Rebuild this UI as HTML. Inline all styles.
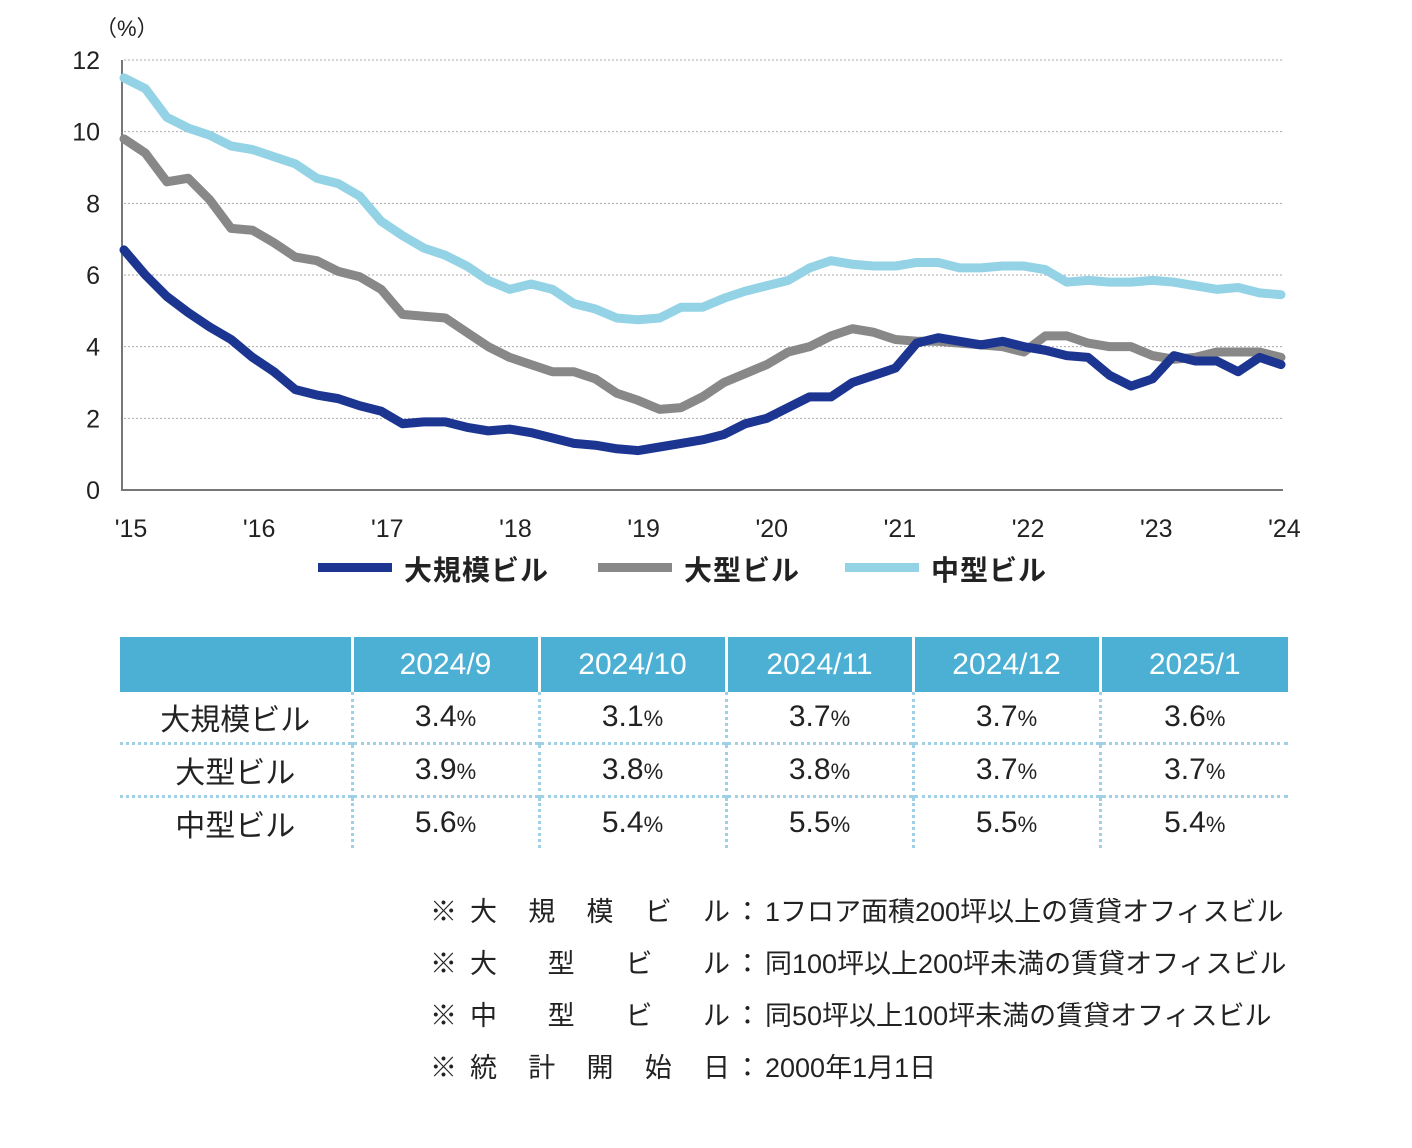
<!DOCTYPE html>
<html><head><meta charset="utf-8">
<style>
body{margin:0;width:1412px;height:1148px;background:#fff;font-family:"Liberation Sans","Noto Sans CJK JP",sans-serif;position:relative;overflow:hidden}
svg{position:absolute;left:0;top:0}
table{position:absolute;left:120px;top:637px;border-collapse:collapse;table-layout:fixed}
td,th{padding:0;text-align:center;font-weight:normal}
th{background:#4bb0d4;color:#fff;font-size:30px;height:55px;border-left:3px solid #fff}
th:first-child{border-left:none}
td{font-size:30px;color:#222;height:50px;border-left:3px dotted #9fd0e6;border-top:3px dotted #9fd0e6}
td:first-child{border-left:none}
tr.r1 td{border-top:none}
td small{font-size:22px}
.notes{position:absolute;left:430px;top:890px;font-size:27px;color:#222}
.notes div{height:52px;display:flex}
.notes .m{width:40px}
.notes .k{width:260px;display:flex;justify-content:space-between}
.notes .c{width:35px;text-align:center}
</style></head><body>
<svg id="chart" width="1412" height="600"></svg>
<table>
<colgroup><col style="width:232px"><col style="width:187px"><col style="width:187px"><col style="width:187px"><col style="width:187px"><col style="width:188px"></colgroup>
<tr><th></th><th>2024/9</th><th>2024/10</th><th>2024/11</th><th>2024/12</th><th>2025/1</th></tr>
<tr class="r1"><td>大規模ビル</td><td>3.4<small>%</small></td><td>3.1<small>%</small></td><td>3.7<small>%</small></td><td>3.7<small>%</small></td><td>3.6<small>%</small></td></tr>
<tr><td>大型ビル</td><td>3.9<small>%</small></td><td>3.8<small>%</small></td><td>3.8<small>%</small></td><td>3.7<small>%</small></td><td>3.7<small>%</small></td></tr>
<tr><td>中型ビル</td><td>5.6<small>%</small></td><td>5.4<small>%</small></td><td>5.5<small>%</small></td><td>5.5<small>%</small></td><td>5.4<small>%</small></td></tr>
</table>
<div class="notes">
<div><span class="m">※</span><span class="k"><span>大</span><span>規</span><span>模</span><span>ビ</span><span>ル</span></span><span class="c">：</span><span>1フロア面積200坪以上の賃貸オフィスビル</span></div>
<div><span class="m">※</span><span class="k"><span>大</span><span>型</span><span>ビ</span><span>ル</span></span><span class="c">：</span><span>同100坪以上200坪未満の賃貸オフィスビル</span></div>
<div><span class="m">※</span><span class="k"><span>中</span><span>型</span><span>ビ</span><span>ル</span></span><span class="c">：</span><span>同50坪以上100坪未満の賃貸オフィスビル</span></div>
<div><span class="m">※</span><span class="k"><span>統</span><span>計</span><span>開</span><span>始</span><span>日</span></span><span class="c">：</span><span>2000年1月1日</span></div>
</div>
<script>
const yTicks=[0,2,4,6,8,10,12];
const xLabels=["'15","'16","'17","'18","'19","'20","'21","'22","'23","'24"];
const largeScale=[6.7,6.0,5.4,4.95,4.55,4.2,3.7,3.3,2.8,2.65,2.55,2.35,2.2,1.85,1.9,1.9,1.75,1.65,1.7,1.6,1.45,1.3,1.25,1.15,1.1,1.2,1.3,1.4,1.55,1.85,2.0,2.3,2.6,2.6,3.0,3.2,3.4,4.1,4.25,4.15,4.05,4.15,4.0,3.9,3.75,3.7,3.2,2.9,3.1,3.75,3.6,3.6,3.3,3.7,3.5];
const large=[9.8,9.4,8.6,8.7,8.1,7.3,7.25,6.9,6.5,6.4,6.1,5.95,5.6,4.9,4.85,4.8,4.4,4.0,3.7,3.5,3.3,3.3,3.1,2.7,2.5,2.25,2.3,2.6,3.0,3.25,3.5,3.85,4.0,4.3,4.5,4.4,4.2,4.15,4.15,4.1,4.05,4.0,3.85,4.3,4.3,4.1,4.0,4.0,3.75,3.65,3.7,3.85,3.85,3.85,3.7];
const medium=[11.5,11.2,10.4,10.1,9.9,9.6,9.5,9.3,9.1,8.7,8.55,8.2,7.5,7.1,6.75,6.55,6.25,5.85,5.6,5.75,5.6,5.2,5.05,4.8,4.75,4.8,5.1,5.1,5.35,5.55,5.7,5.85,6.2,6.4,6.3,6.25,6.25,6.35,6.35,6.2,6.2,6.25,6.25,6.15,5.8,5.85,5.8,5.8,5.85,5.8,5.7,5.6,5.65,5.5,5.45];
const stepMonths=2;
const NS='http://www.w3.org/2000/svg';
const svg=document.getElementById('chart');
const X0=124,X1=1281,Y0=490,Y12=60;
const xs=m=>X0+(X1-X0)*m/108;
const ys=v=>Y0-(Y0-Y12)*v/12;
function mk(t,a){const e=document.createElementNS(NS,t);for(const k in a)e.setAttribute(k,a[k]);svg.appendChild(e);return e;}
yTicks.forEach(v=>{
 if(v>0){const g=mk('line',{x1:X0,x2:1284,y1:ys(v),y2:ys(v),stroke:'#aaa','stroke-width':1,'stroke-dasharray':'2,2'});
 
 }
 const t=mk('text',{x:100,y:ys(v)+9,'text-anchor':'end','font-size':25,fill:'#222'});t.textContent=v;
 
 
});
const ut=mk('text',{x:95,y:36,'font-size':22,fill:'#222'});ut.textContent='（%）';


const ax=mk('path',{d:`M${X0-2} ${Y12} V${Y0} H1283`,stroke:'#777','stroke-width':2,fill:'none'});


xLabels.forEach((l,i)=>{const t=mk('text',{x:xs(i*12)+7-i*0.4,y:537,'text-anchor':'middle','font-size':25,fill:'#222'});t.textContent=l;
 
 });
const series=[[large,'#888','large-line'],[medium,'#94d3e6','medium-line'],[largeScale,'#1b3591','large-scale-line']];
series.forEach(([d,c,n])=>{
 const p=mk('polyline',{points:d.map((v,i)=>xs(i*stepMonths)+','+ys(v)).join(' '),fill:'none',stroke:c,'stroke-width':9,'stroke-linejoin':'round','stroke-linecap':'round'});
 
 
});
const leg=[[318,'#1b3591','大規模ビル'],[598,'#888','大型ビル'],[845,'#94d3e6','中型ビル']];
leg.forEach(([x,c,l])=>{
 const r=mk('rect',{x:x,y:563,width:74,height:9,fill:c});
 
 
 const t=mk('text',{x:x+86,y:580,'font-size':28,'font-weight':'bold',fill:'#222','letter-spacing':1});t.textContent=l;
 
 
});
</script>
</body></html>
